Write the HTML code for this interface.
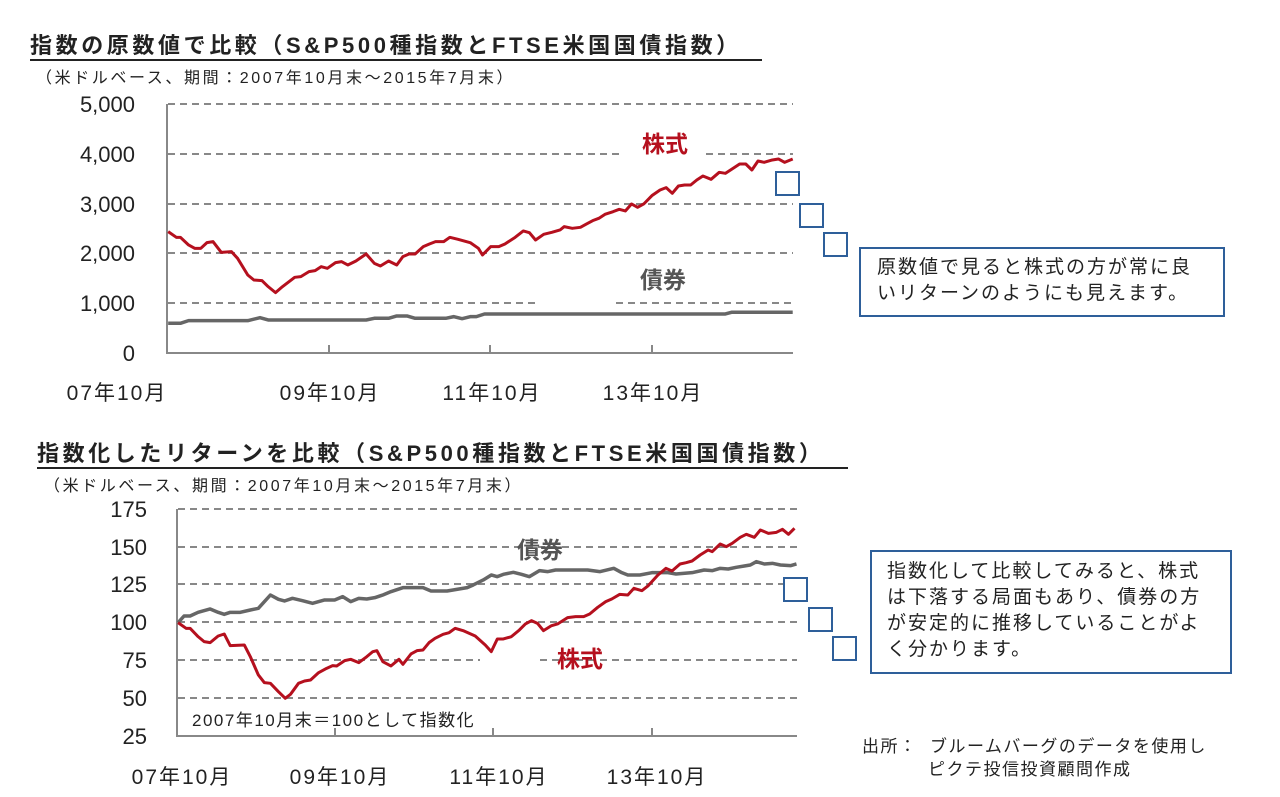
<!DOCTYPE html>
<html><head><meta charset="utf-8"><style>
body{margin:0;background:#fff;width:1280px;height:797px;overflow:hidden;position:relative;font-family:"Liberation Sans","Noto Sans CJK JP",sans-serif;color:#222}
.t{position:absolute;white-space:nowrap}
.title{font-weight:bold;font-size:22px;letter-spacing:3.6px;border-bottom:2px solid #222;line-height:27px}
.sub{font-size:16px;letter-spacing:2.6px}
.box{position:absolute;border:2px solid #2e5f9a;background:#fff;font-size:19px;letter-spacing:2px;line-height:26px;padding:6px 14px;box-sizing:border-box}
</style></head><body>
<div class="t title" style="left:30px;top:32px;width:732px">指数の原数値で比較（S&amp;P500種指数とFTSE米国国債指数）</div>
<div class="t sub" style="left:36px;top:64px">（米ドルベース、期間：2007年10月末～2015年7月末）</div>
<div class="t title" style="left:37px;top:440px;width:811px">指数化したリターンを比較（S&amp;P500種指数とFTSE米国国債指数）</div>
<div class="t sub" style="left:44px;top:472px">（米ドルベース、期間：2007年10月末～2015年7月末）</div>

<svg width="1280" height="797" style="position:absolute;left:0;top:0">
<g font-family="Liberation Sans,Noto Sans CJK JP,sans-serif" font-size="22" fill="#222">
<text x="135" y="112" text-anchor="end">5,000</text>
<text x="135" y="162" text-anchor="end">4,000</text>
<text x="135" y="212" text-anchor="end">3,000</text>
<text x="135" y="261" text-anchor="end">2,000</text>
<text x="135" y="311" text-anchor="end">1,000</text>
<text x="135" y="361" text-anchor="end">0</text>
</g>
<g font-family="Liberation Sans,Noto Sans CJK JP,sans-serif" font-size="21" fill="#222" letter-spacing="2" text-anchor="middle">
<text x="117" y="400">07年10月</text>
<text x="330" y="400">09年10月</text>
<text x="492" y="400">11年10月</text>
<text x="653" y="400">13年10月</text>
<text x="182" y="784">07年10月</text>
<text x="340" y="784">09年10月</text>
<text x="499" y="784">11年10月</text>
<text x="657" y="784">13年10月</text>
</g>
<g font-family="Liberation Sans,Noto Sans CJK JP,sans-serif" font-size="22" fill="#222" text-anchor="end">
<text x="147" y="517">175</text>
<text x="147" y="555">150</text>
<text x="147" y="592">125</text>
<text x="147" y="630">100</text>
<text x="147" y="668">75</text>
<text x="147" y="706">50</text>
<text x="147" y="744">25</text>
</g>
<g stroke="#888" stroke-width="2" stroke-dasharray="7,5" fill="none">
<line x1="168" y1="104" x2="793" y2="104"/>
<line x1="168" y1="154" x2="620" y2="154"/><line x1="706" y1="154" x2="793" y2="154"/>
<line x1="168" y1="204" x2="793" y2="204"/>
<line x1="168" y1="253" x2="793" y2="253"/>
<line x1="168" y1="303" x2="540" y2="303"/><line x1="616" y1="303" x2="793" y2="303"/>
<line x1="178" y1="509" x2="797" y2="509"/>
<line x1="178" y1="547" x2="797" y2="547"/>
<line x1="178" y1="584" x2="797" y2="584"/>
<line x1="178" y1="622" x2="797" y2="622"/>
<line x1="178" y1="660" x2="480" y2="660"/><line x1="540" y1="660" x2="797" y2="660"/>
<line x1="178" y1="698" x2="797" y2="698"/>
</g>
<g stroke="#888" stroke-width="2">
<line x1="167" y1="104" x2="167" y2="354"/><line x1="166" y1="353" x2="793" y2="353"/>
<line x1="329" y1="345" x2="329" y2="353"/><line x1="490" y1="345" x2="490" y2="353"/><line x1="652" y1="345" x2="652" y2="353"/>
<line x1="177" y1="509" x2="177" y2="737"/><line x1="176" y1="736" x2="797" y2="736"/>
<line x1="335" y1="728" x2="335" y2="736"/><line x1="493" y1="728" x2="493" y2="736"/><line x1="652" y1="728" x2="652" y2="736"/>
</g>
<g transform="translate(160,100) scale(0.4082,0.3333)" fill="none" stroke-linejoin="round">
<polyline vector-effect="non-scaling-stroke" stroke-width="3.5" stroke="#666" points="20,670 50,670 70,662 215,662 245,653 265,660 505,660 525,655 560,655 580,648 605,648 625,655 700,655 720,650 740,656 760,650 775,650 795,642 1385,642 1400,637 1550,637"/>
<polyline vector-effect="non-scaling-stroke" stroke-width="3" stroke="#b5101e" points="20,395 40,412 50,412 70,435 85,445 100,445 115,428 130,425 150,457 175,455 190,475 215,525 230,540 250,542 265,560 283,578 300,560 330,532 345,530 365,515 380,512 395,500 410,505 430,488 445,485 460,495 480,483 505,462 525,490 540,498 560,483 580,495 595,470 610,462 625,462 645,440 660,432 675,425 695,425 710,412 730,418 760,428 780,445 790,465 810,440 830,440 845,432 870,412 890,393 905,398 920,420 940,403 960,397 980,390 990,380 1010,385 1030,382 1045,372 1060,362 1075,355 1090,343 1110,335 1125,328 1140,333 1155,312 1170,322 1185,312 1205,287 1225,270 1240,263 1255,280 1270,258 1285,255 1300,255 1315,240 1330,228 1350,238 1370,217 1385,220 1400,208 1420,192 1435,192 1450,210 1465,183 1480,187 1500,180 1515,177 1530,187 1550,177"/>
</g>
<g transform="translate(170,500) scale(0.4016,0.3333)" fill="none" stroke-linejoin="round">
<polyline vector-effect="non-scaling-stroke" stroke-width="3.5" stroke="#666" points="20,368 35,348 50,348 70,337 100,327 120,337 135,343 150,337 175,337 200,330 220,325 250,285 270,298 285,303 305,295 330,302 355,310 385,300 410,300 430,290 450,305 470,295 490,297 510,293 530,285 550,275 580,263 630,263 650,273 690,273 740,263 755,255 780,240 800,225 815,230 830,223 855,217 875,223 895,230 920,212 940,215 960,210 1040,210 1070,215 1105,205 1125,218 1140,225 1170,225 1200,218 1240,218 1260,222 1300,218 1330,210 1350,212 1370,205 1390,207 1410,202 1430,198 1445,195 1460,185 1480,192 1500,190 1520,195 1545,197 1560,192"/>
<polyline vector-effect="non-scaling-stroke" stroke-width="3" stroke="#b5101e" points="20,368 40,385 50,385 70,410 85,425 100,428 120,408 135,402 150,437 185,435 200,470 220,525 235,548 250,550 270,575 287,595 300,583 320,550 335,543 350,540 370,518 390,505 405,497 415,498 435,482 450,478 470,488 490,470 505,455 515,452 530,485 550,498 570,478 580,493 600,462 615,452 630,450 645,428 660,415 680,403 695,398 710,385 730,392 760,408 785,435 800,455 815,417 830,417 850,410 870,390 885,372 900,362 915,370 930,392 950,377 965,372 990,353 1010,350 1030,350 1045,342 1065,322 1085,305 1100,297 1120,283 1140,285 1155,265 1175,272 1190,258 1215,225 1235,205 1250,213 1270,192 1285,188 1300,183 1320,165 1340,150 1350,155 1370,132 1385,140 1400,130 1420,112 1435,103 1455,112 1470,90 1490,100 1510,97 1525,88 1540,103 1555,85"/>
</g>
<g font-family="Liberation Sans,Noto Sans CJK JP,sans-serif" font-weight="bold" font-size="23">
<text x="642" y="152" fill="#b5101e">株式</text>
<text x="640" y="288" fill="#555">債券</text>
<text x="517" y="558" fill="#555">債券</text>
<text x="557" y="667" fill="#b5101e">株式</text>
</g>
<text x="192" y="726" font-family="Liberation Sans,Noto Sans CJK JP,sans-serif" font-size="17" letter-spacing="1.5" fill="#222">2007年10月末＝100として指数化</text>
<g fill="#fff" stroke="#2e5f9a" stroke-width="2">
<rect x="776" y="172" width="23" height="23"/><rect x="800" y="204" width="23" height="23"/><rect x="824" y="233" width="23" height="23"/>
<rect x="784" y="578" width="23" height="23"/><rect x="809" y="608" width="23" height="23"/><rect x="833" y="637" width="23" height="23"/>
</g>
</svg>
<div class="box" style="left:859px;top:247px;width:366px;height:70px;padding-top:6px;padding-left:16px">原数値で見ると株式の方が常に良いリターンのようにも見えます。</div>
<div class="box" style="left:870px;top:550px;width:362px;height:124px;padding-top:7px;padding-left:15px">指数化して比較してみると、株式は下落する局面もあり、債券の方が安定的に推移していることがよく分かります。</div>
<div class="t" style="left:862px;top:735px;font-size:17px;letter-spacing:1.5px;line-height:23px">出所：&nbsp; ブルームバーグのデータを使用し<br><span style="padding-left:66px">ピクテ投信投資顧問作成</span></div>
</body></html>
